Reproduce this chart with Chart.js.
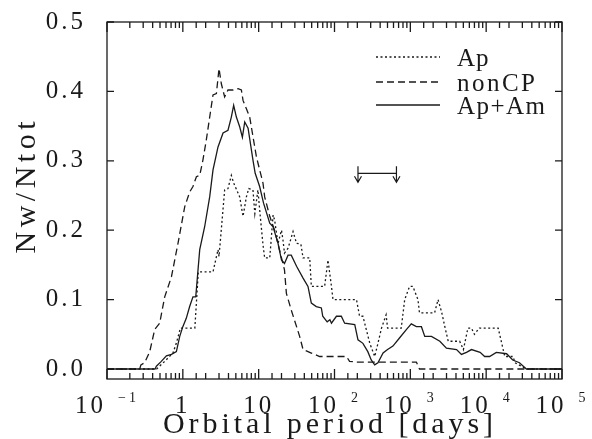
<!DOCTYPE html>
<html>
<head>
<meta charset="utf-8">
<script src="https://cdn.jsdelivr.net/npm/chart.js@4.4.1/dist/chart.umd.min.js"></script>
<style>
  html, body { margin: 0; padding: 0; background: #fff; }
</style>
</head>
<body>
<canvas id="chart" width="592" height="439"></canvas>
<script>
// periods in days, values are Nw/Ntot
const apPeriod = [0.1, 0.45, 0.577, 0.74, 0.82, 0.93, 1.44, 1.6, 1.67, 2.5, 2.91, 3.0, 3.56, 3.94, 4.36, 4.68, 5.62, 6.22, 6.89, 7.4,
  8.41, 8.9, 9.77, 10.5, 11.4, 12.0, 14.0, 15.5, 16.2, 18.0, 20.0, 20.9, 21.9, 24.4, 28.4, 31.6, 36, 38.5, 47.1, 49.5,
  74.1, 82.0, 91.2, 95.5, 195, 214, 237, 292, 339, 374, 417, 479, 501, 759, 843, 977, 1080, 1260, 1320, 2090,
  2320, 2600, 2850, 3160, 4470, 5010, 5750, 6400, 7000, 8130, 14400, 17600, 22600, 24000, 33900, 100000];
const apValue = [0, 0, 0.011, 0.023, 0.037, 0.059, 0.059, 0.14, 0.14, 0.14, 0.172, 0.162, 0.258, 0.26, 0.279, 0.268, 0.248, 0.22, 0.248, 0.26,
  0.258, 0.224, 0.258, 0.22, 0.179, 0.16, 0.16, 0.222, 0.215, 0.181, 0.2, 0.186, 0.167, 0.174, 0.198, 0.181, 0.18, 0.16, 0.16, 0.119,
  0.119, 0.157, 0.119, 0.1, 0.1, 0.076, 0.076, 0.037, 0.018, 0.037, 0.059, 0.078, 0.059, 0.059, 0.1, 0.119, 0.119, 0.1, 0.081, 0.081,
  0.1, 0.081, 0.061, 0.04, 0.04, 0.028, 0.059, 0.059, 0.05, 0.059, 0.059, 0.018, 0.018, 0.009, 0, 0];

const noncpPeriod = [0.1, 0.27, 0.28, 0.314, 0.366, 0.426, 0.495, 0.577, 0.708, 0.863, 1.06, 1.23, 1.36, 1.51, 1.67, 1.84, 2.04, 2.26, 2.5, 2.77,
  3.0, 3.22, 3.56, 3.94, 4.59, 5.35, 5.92, 6.22, 6.89, 7.62, 8.41, 9.33, 10.3, 11.4, 12.0, 14.0, 16.2, 18.5, 21.9, 23.2,
  26.9, 31.6, 34.7, 38.5, 44.7, 49.5, 63.8, 144, 158, 195, 1200, 1320, 100000];
const noncpValue = [0, 0, 0.006, 0.009, 0.025, 0.057, 0.066, 0.104, 0.133, 0.181, 0.234, 0.255, 0.263, 0.277, 0.279, 0.301, 0.33, 0.363, 0.395, 0.397,
  0.433, 0.411, 0.392, 0.402, 0.402, 0.404, 0.402, 0.387, 0.375, 0.363, 0.335, 0.306, 0.287, 0.268, 0.248, 0.22, 0.2, 0.175, 0.143, 0.109,
  0.085, 0.061, 0.047, 0.028, 0.025, 0.023, 0.018, 0.018, 0.011, 0.01, 0.01, 0, 0];

const apamPeriod = [0.1, 0.43, 0.448, 0.52, 0.607, 0.708, 0.822, 0.91, 1.0, 1.11, 1.23, 1.36, 1.48, 1.67, 1.94, 2.26, 2.5, 2.91, 3.39, 3.94,
  4.36, 4.68, 5.08, 5.62, 6.1, 6.55, 7.25, 8.41, 9.0, 10.3, 11.6, 14.0, 15.5, 18.0, 20.0, 21.9, 24.4, 26.9, 31.6, 38.5,
  44.7, 49.5, 57.5, 67.1, 70, 80, 87, 91.2, 106, 123, 136, 185, 204, 237, 275, 305, 339, 374, 437, 501,
  589, 724, 891, 1030, 1200, 1400, 1550, 1900, 2450, 2990, 4070, 4720, 5500, 6400, 8320, 9550, 11100, 13600, 18600, 22400,
  27500, 33900, 100000];
const apamValue = [0, 0, 0.004, 0.011, 0.019, 0.021, 0.025, 0.047, 0.061, 0.073, 0.09, 0.104, 0.104, 0.172, 0.205, 0.248, 0.287, 0.32, 0.34, 0.344,
  0.363, 0.38, 0.363, 0.349, 0.334, 0.356, 0.347, 0.301, 0.282, 0.263, 0.239, 0.21, 0.205, 0.181, 0.157, 0.152, 0.164, 0.164, 0.148, 0.131,
  0.119, 0.095, 0.09, 0.088, 0.076, 0.068, 0.071, 0.066, 0.076, 0.076, 0.066, 0.064, 0.042, 0.037, 0.025, 0.013, 0.006, 0.009, 0.023, 0.028,
  0.033, 0.045, 0.057, 0.065, 0.061, 0.061, 0.047, 0.047, 0.04, 0.03, 0.028, 0.021, 0.024, 0.028, 0.024, 0.018, 0.018, 0.024, 0.022, 0.013,
  0.009, 0, 0];

const xTickValues = [0.1, 1, 10, 100, 1000, 10000, 100000];
const xTickBase = ['10', '1', '10', '10', '10', '10', '10'];
const xTickExp = ['\u22121', '', '', '2', '3', '4', '5'];
const yTickValues = [0, 0.1, 0.2, 0.3, 0.4, 0.5];
const yTickLabels = ['0.0', '0.1', '0.2', '0.3', '0.4', '0.5'];

// the double arrow marking the period range
const arrowPeriods = [204, 656];
const arrowLevel = 0.282;

const ink = '#1a1a1a';
const serif = '"Liberation Serif", "Times New Roman", serif';

function zip(px, vals) {
  return px.map((p, i) => ({ x: p, y: vals[i] }));
}

function isDecade(v) {
  const l = Math.log10(v);
  return Math.abs(l - Math.round(l)) < 1e-6;
}

// draw text stretched to a given width (the original uses a wide stroke font)
function spaced(ctx, text, x, y, width) {
  ctx.letterSpacing = '0px';
  const w = ctx.measureText(text).width;
  const gap = Math.max(1, (width - w) / (text.length - 1));
  ctx.letterSpacing = gap + 'px';
  ctx.textAlign = 'left';
  ctx.fillText(text, x, y);
  ctx.letterSpacing = '0px';
}

const frame = {
  id: 'frame',
  afterDraw(chart) {
    const { ctx, chartArea: a, scales: { x, y } } = chart;
    ctx.save();
    ctx.strokeStyle = ink;
    ctx.fillStyle = ink;
    ctx.lineWidth = 1.3;
    ctx.setLineDash([]);
    ctx.strokeRect(a.left, a.top, a.right - a.left, a.bottom - a.top);

    // inward ticks on all four sides
    ctx.beginPath();
    for (const t of x.ticks) {
      const px = x.getPixelForValue(t.value);
      const len = isDecade(t.value) ? 10 : 6;
      ctx.moveTo(px, a.bottom); ctx.lineTo(px, a.bottom - len);
      ctx.moveTo(px, a.top); ctx.lineTo(px, a.top + len);
    }
    for (const v of yTickValues) {
      const py = y.getPixelForValue(v);
      ctx.moveTo(a.left, py); ctx.lineTo(a.left + 7, py);
      ctx.moveTo(a.right, py); ctx.lineTo(a.right - 7, py);
    }
    ctx.stroke();

    // y tick labels
    ctx.letterSpacing = '3px';
    ctx.font = '25px ' + serif;
    ctx.textAlign = 'right';
    ctx.textBaseline = 'middle';
    yTickValues.forEach((v, i) => {
      ctx.fillText(yTickLabels[i], a.left - 21, y.getPixelForValue(v));
    });

    // x tick labels with exponents
    ctx.textAlign = 'left';
    ctx.textBaseline = 'alphabetic';
    xTickValues.forEach((v, i) => {
      const px = x.getPixelForValue(v);
      ctx.font = '25px ' + serif;
      const w1 = ctx.measureText(xTickBase[i]).width;
      let w2 = 0;
      const gap = 12;
      if (xTickExp[i]) {
        ctx.font = '14px ' + serif;
        w2 = ctx.measureText(xTickExp[i]).width;
      }
      const total = w1 + (w2 ? gap + w2 : 0);
      const start = px - total / 2;
      ctx.font = '25px ' + serif;
      ctx.fillText(xTickBase[i], start, 413);
      if (xTickExp[i]) {
        ctx.font = '14px ' + serif;
        ctx.fillText(xTickExp[i], start + w1 + gap, 402);
      }
    });
    ctx.letterSpacing = '0px';

    // axis titles
    ctx.font = '30px ' + serif;
    spaced(ctx, 'Orbital period [days]', 163, 433, 330);
    ctx.save();
    ctx.translate(35, 187.5);
    ctx.rotate(-Math.PI / 2);
    ctx.font = '30px ' + serif;
    spaced(ctx, 'Nw/Ntot', -66, 0, 132);
    ctx.restore();

    // legend
    const rows = [57, 82, 105];
    const labelWidths = [30, 78, 88];
    ctx.font = '25px ' + serif;
    ctx.textBaseline = 'alphabetic';
    chart.data.datasets.forEach((ds, i) => {
      ctx.beginPath();
      ctx.lineWidth = ds.borderWidth;
      ctx.setLineDash(ds.borderDash || []);
      ctx.moveTo(376, rows[i]);
      ctx.lineTo(440, rows[i]);
      ctx.stroke();
      ctx.setLineDash([]);
      spaced(ctx, ds.label, 457, rows[i] + 9, labelWidths[i]);
    });

    // double arrow
    const ya = y.getPixelForValue(arrowLevel);
    const xs = arrowPeriods.map(p => x.getPixelForValue(p));
    ctx.lineWidth = 1.2;
    ctx.beginPath();
    ctx.moveTo(xs[0], ya); ctx.lineTo(xs[1], ya);
    for (const px of xs) {
      ctx.moveTo(px, ya - 7); ctx.lineTo(px, ya + 9);
      ctx.moveTo(px - 3.5, ya + 3); ctx.lineTo(px, ya + 9); ctx.lineTo(px + 3.5, ya + 3);
    }
    ctx.stroke();
    ctx.restore();
  }
};

new Chart(document.getElementById('chart'), {
  type: 'line',
  data: {
    datasets: [
      { label: 'Ap', data: zip(apPeriod, apValue), borderColor: ink, borderWidth: 1.3, borderDash: [2, 2.5] },
      { label: 'nonCP', data: zip(noncpPeriod, noncpValue), borderColor: ink, borderWidth: 1.3, borderDash: [7, 4] },
      { label: 'Ap+Am', data: zip(apamPeriod, apamValue), borderColor: ink, borderWidth: 1.3 }
    ]
  },
  options: {
    responsive: false,
    animation: false,
    devicePixelRatio: 1,
    elements: { point: { radius: 0 }, line: { tension: 0, fill: false } },
    layout: { padding: { left: 107, right: 30, top: 22, bottom: 60 } },
    plugins: { legend: { display: false }, tooltip: { enabled: false } },
    scales: {
      x: {
        type: 'logarithmic',
        min: 0.1,
        max: 100000,
        grid: { display: false },
        border: { display: false },
        ticks: { display: false, autoSkip: false },
        afterFit: s => { s.height = 0; }
      },
      y: {
        type: 'linear',
        min: -0.0144,
        max: 0.5,
        grid: { display: false },
        border: { display: false },
        ticks: { display: false },
        afterFit: s => { s.width = 0; }
      }
    }
  },
  plugins: [frame]
});
</script>
</body>
</html>
